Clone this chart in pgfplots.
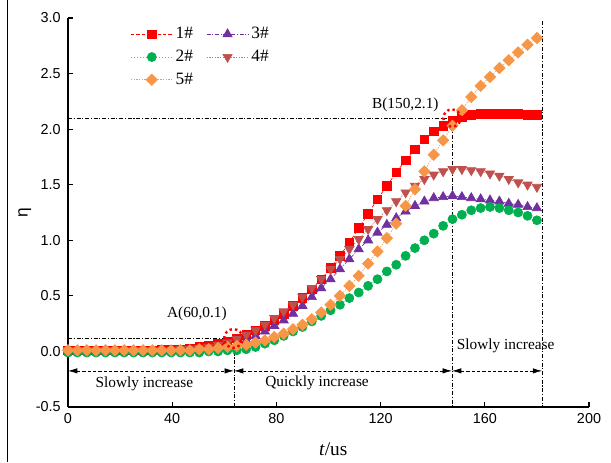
\documentclass[border=0pt]{standalone}
\usepackage{fontspec}
\setmainfont{Liberation Serif}
\newfontfamily\sansf{Liberation Sans}
\usepackage{pgfplots}
\usepackage{pgfplotstable}
\pgfplotsset{compat=1.18}
\usetikzlibrary{arrows.meta}

\definecolor{c1}{HTML}{FF0000}
\definecolor{c2}{HTML}{00B050}
\definecolor{c3}{HTML}{7030A0}
\definecolor{c4}{HTML}{C0504D}
\definecolor{c5}{HTML}{F79646}

% t, 1#, 2#, 3#, 4#, 5#
\pgfplotstableread{
t s1 s2 s3 s4 s5
0 0.01 -0.01 0.00 0.01 0.01
3.6 0.01 -0.01 0.00 0.01 0.01
7.2 0.01 -0.01 0.00 0.01 0.01
10.8 0.01 -0.01 0.00 0.01 0.01
14.4 0.01 -0.01 0.00 0.01 0.01
18.0 0.01 -0.01 0.00 0.01 0.01
21.6 0.01 -0.01 0.00 0.01 0.01
25.2 0.01 -0.01 0.00 0.01 0.01
28.8 0.01 -0.01 0.00 0.01 0.01
32.4 0.01 -0.01 0.00 0.01 0.01
36.0 0.02 -0.01 0.00 0.01 0.01
39.6 0.02 -0.01 0.00 0.01 0.01
43.2 0.02 -0.01 0.00 0.02 0.01
46.8 0.03 -0.01 0.01 0.02 0.01
50.4 0.04 -0.01 0.01 0.03 0.02
54.0 0.05 0.00 0.02 0.04 0.02
57.6 0.07 0.00 0.03 0.06 0.03
61.2 0.09 0.01 0.05 0.08 0.04
64.8 0.12 0.01 0.07 0.11 0.05
68.4 0.15 0.02 0.10 0.15 0.06
72.0 0.19 0.04 0.14 0.19 0.08
75.6 0.23 0.07 0.18 0.24 0.10
79.2 0.28 0.10 0.23 0.30 0.13
82.8 0.34 0.14 0.28 0.36 0.16
86.4 0.41 0.18 0.34 0.42 0.20
90.0 0.48 0.22 0.41 0.49 0.24
93.6 0.56 0.27 0.49 0.57 0.29
97.2 0.65 0.32 0.57 0.65 0.35
100.8 0.75 0.37 0.65 0.74 0.42
104.4 0.86 0.42 0.74 0.83 0.50
108.0 0.98 0.48 0.83 0.92 0.59
111.6 1.11 0.53 0.92 1.01 0.68
115.2 1.24 0.59 1.00 1.10 0.79
118.8 1.37 0.65 1.07 1.19 0.90
122.4 1.49 0.72 1.14 1.27 1.02
126.0 1.61 0.78 1.20 1.35 1.15
129.6 1.72 0.86 1.26 1.43 1.31
133.2 1.82 0.93 1.31 1.49 1.46
136.8 1.91 1.00 1.35 1.55 1.62
140.4 1.98 1.06 1.38 1.59 1.77
144.0 2.03 1.13 1.39 1.62 1.90
147.6 2.08 1.19 1.40 1.64 2.03
151.2 2.11 1.23 1.39 1.64 2.17
154.8 2.13 1.27 1.38 1.63 2.29
158.4 2.14 1.29 1.37 1.62 2.39
162.0 2.14 1.30 1.36 1.60 2.47
165.6 2.14 1.29 1.35 1.58 2.55
169.2 2.14 1.27 1.33 1.55 2.62
172.8 2.14 1.25 1.32 1.52 2.69
176.4 2.13 1.22 1.30 1.50 2.76
180.0 2.13 1.18 1.29 1.48 2.82
}\data

\begin{document}
\begin{tikzpicture}
\begin{axis}[
    set layers,
    scale only axis,
    width=390.75pt, height=291.75pt,
    xmin=0, xmax=200, ymin=-0.5, ymax=3,
    axis lines=left,
    axis line style={-, line width=0.8pt},
    tick align=inside,
    major tick length=4pt,
    tick style={line width=0.8pt, black},
    xtick={0,40,...,200},
    ytick={-0.5,0,0.5,1,1.5,2,2.5,3},
    /pgf/number format/assume math mode=true,
    tick label style={font=\sansf\fontsize{10.8}{12}\selectfont},
    yticklabel style={xshift=-2pt, /pgf/number format/.cd, fixed, fixed zerofill, precision=1},
    xticklabel style={yshift=-1pt},
    xlabel={\textit{t}/us},
    xlabel style={at={(rel axis cs:0.509,-0.108)}, anchor=center, font=\fontsize{14.5}{16}\selectfont},
    ylabel={\sansf η},
    ylabel style={at={(rel axis cs:-0.083,0.5)}, anchor=center, font=\fontsize{13}{15}\selectfont},
    clip=false,
    legend columns=2,
    legend cell align=left,
    legend style={at={(0.112,0.99)}, anchor=north west, draw=none, fill=none,
        font=\fontsize{13}{15}\selectfont, row sep=3pt,
        /tikz/every even column/.append style={column sep=8pt}},
    legend image code/.code={\draw[mark repeat=2,mark phase=2]
        plot coordinates {(0cm,0cm) (0.55cm,0cm) (1.1cm,0cm)};},
]
\addplot[c1, line width=0.5pt, dash pattern=on 2.5pt off 1.5pt, mark=square*, mark size=3.2pt,
    mark options={solid, draw=c1, fill=c1}] table[x=t, y=s1] {\data};
\addplot[c3, line width=0.5pt, dash pattern=on 3pt off 1.2pt on 0.8pt off 1.2pt, mark=triangle*, mark size=4pt,
    mark options={solid, draw=c3, fill=c3}] table[x=t, y=s3] {\data};
\addplot[c2!70, line width=0.5pt, dash pattern=on 0.8pt off 1.5pt, mark=*, mark size=3.4pt,
    mark options={solid, draw=c2, fill=c2}] table[x=t, y=s2] {\data};
\addplot[c4!80, line width=0.5pt, dash pattern=on 1pt off 1pt, mark=triangle*, mark size=4pt,
    mark options={solid, rotate=180, draw=c4, fill=c4}] table[x=t, y=s4] {\data};
\addplot[c5, line width=0.5pt, dash pattern=on 1pt off 1pt, mark=square*, mark size=3pt,
    mark options={solid, rotate=45, draw=c5, fill=c5}] table[x=t, y=s5] {\data};
\legend{1\#, 3\#, 2\#, 4\#, 5\#}

% guide lines
\draw[black, line width=0.5pt, dash pattern=on 3pt off 1.3pt on 0.8pt off 1.3pt]
    (axis cs:0,0.117) -- (axis cs:63.7,0.117) -- (axis cs:63.7,-0.5);
\draw[black, line width=0.5pt, dash pattern=on 3pt off 1.3pt on 0.8pt off 1.3pt]
    (axis cs:0,2.1) -- (axis cs:147.4,2.1) -- (axis cs:147.4,-0.5);
\draw[black, line width=0.5pt, dash pattern=on 3pt off 1.3pt on 0.8pt off 1.3pt]
    (axis cs:182,2.97) -- (axis cs:182,-0.5);

% highlight circles, on top of the markers
\begin{pgfonlayer}{axis foreground}
\draw[c1, line width=1.8pt, dash pattern=on 1.8pt off 2.2pt] (axis cs:63.5,0.117) circle[radius=7pt];
\draw[c1, line width=1.8pt, dash pattern=on 1.8pt off 2.2pt] (axis cs:147.4,2.1) circle[radius=6.5pt];
\end{pgfonlayer}

% stage arrows
\draw[{Latex[length=7pt,width=4pt]}-{Latex[length=7pt,width=4pt]}, line width=0.5pt, dash pattern=on 2.5pt off 1.5pt]
    (axis cs:0,-0.175) -- (axis cs:63.7,-0.175);
\draw[{Latex[length=7pt,width=4pt]}-{Latex[length=7pt,width=4pt]}, line width=0.5pt, dash pattern=on 2.5pt off 1.5pt]
    (axis cs:63.7,-0.175) -- (axis cs:147.4,-0.175);
\draw[{Latex[length=7pt,width=4pt]}-{Latex[length=7pt,width=4pt]}, line width=0.5pt, dash pattern=on 2.5pt off 1.5pt]
    (axis cs:147.4,-0.175) -- (axis cs:182,-0.175);

\node[font=\fontsize{11.5}{13}\selectfont] at (axis cs:29.3,-0.29) {Slowly increase};
\node[font=\fontsize{11.5}{13}\selectfont] at (axis cs:95.6,-0.28) {Quickly increase};
\node[font=\fontsize{11.5}{13}\selectfont] at (axis cs:168,0.05) {Slowly increase};
\node[font=\fontsize{11.5}{13}\selectfont] at (axis cs:49.5,0.34) {A(60,0.1)};
\node[font=\fontsize{11.5}{13}\selectfont] at (axis cs:129.5,2.22) {B(150,2.1)};

\draw[black, line width=0.8pt] (rel axis cs:-0.1152,-0.1414) -- (rel axis cs:-0.1152,1.0463);
\coordinate (BBl) at (rel axis cs:-0.1305,-0.1414);
\coordinate (BBr) at (rel axis cs:1.0422,1.0463);
\end{axis}
\pgfresetboundingbox
\path (BBl) rectangle (BBr);
\end{tikzpicture}
\end{document}
